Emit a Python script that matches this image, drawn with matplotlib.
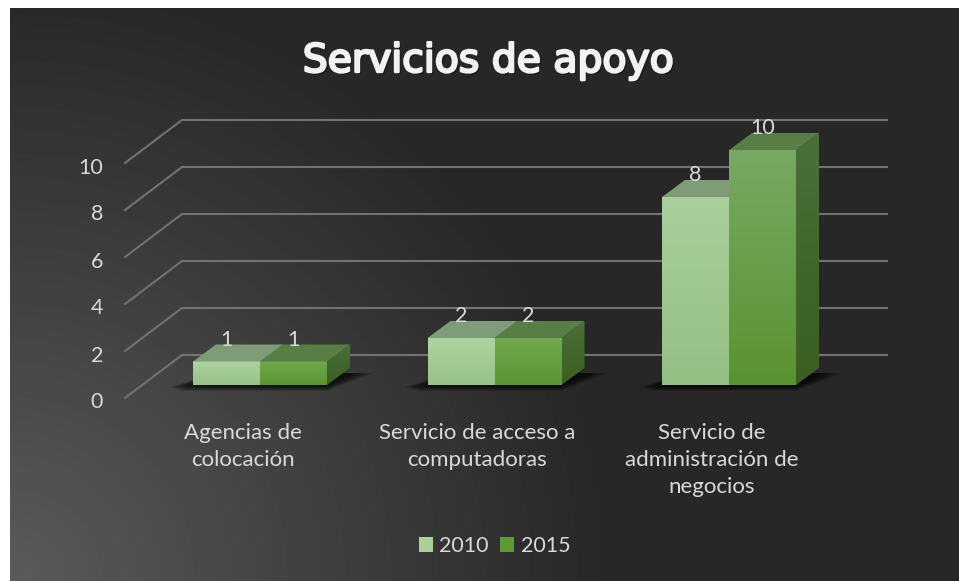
# plot.py - Servicios de apoyo, fake 3D column chart

import numpy as np
import matplotlib
matplotlib.use("Agg")
import matplotlib.pyplot as plt
import matplotlib.patheffects as pe
from matplotlib.patches import Polygon, Patch
from matplotlib.colors import LinearSegmentedColormap

# -------------------------------
# Data
# -------------------------------

categories = ["Agencias de\ncolocación",
              "Servicio de acceso a\ncomputadoras",
              "Servicio de\nadministración de\nnegocios"]
series_names = ["2010", "2015"]
values_2010 = [1, 2, 8]
values_2015 = [1, 2, 10]
y_ticks = [0, 2, 4, 6, 8, 10]

# -------------------------------
# Layout (pixels of the 959x581 picture turned into data units)
# -------------------------------

W, H = 959, 581
X_UNIT = 234.5   # px per category
Y_UNIT = 23.5    # px per value
X0_PX = 260      # category 0 centre
Y0_PX = 385      # value 0 at the bars front edge

BAR_W = 67 / X_UNIT
DEPTH_X = 23 / X_UNIT
DEPTH_Y = 17 / Y_UNIT
WALL_X0 = (125 - X0_PX) / X_UNIT
WALL_Y0 = (Y0_PX - 398) / Y_UNIT
WALL_DX = 57 / X_UNIT
WALL_DY = 43 / Y_UNIT
GRID_END = (887 - X0_PX) / X_UNIT

TEXT_COLOR = "#d9d9d9"
GRID_COLOR = "#727272"

plt.rcParams["font.family"] = ["Lato", "DejaVu Sans"]

fig = plt.figure(figsize=(W / 100, H / 100), dpi=100, facecolor="white")

# -------------------------------
# Background gradient
# -------------------------------

bg = fig.add_axes([10 / W, 0, (W - 10) / W, (H - 8) / H])
bg.axis("off")
xx, yy = np.meshgrid(np.arange(W - 10), np.arange(H - 8))
radius = np.hypot(xx, (H - 8) - yy)
shade = np.clip(1 - radius / 600, 0, 1)
bg_img = 0.153 + (0.355 - 0.153) * shade
bg.imshow(bg_img, cmap="gray", vmin=0, vmax=1, aspect="auto", interpolation="bilinear")

# -------------------------------
# Main axes: x = category index, y = value
# -------------------------------

ax = fig.add_axes([0, 0, 1, 1], facecolor="none")
ax.set_xlim(-X0_PX / X_UNIT, (W - X0_PX) / X_UNIT)
ax.set_ylim((Y0_PX - H) / Y_UNIT, Y0_PX / Y_UNIT)
ax.axis("off")

for tick in y_ticks:
    ax.plot([WALL_X0, WALL_X0 + WALL_DX, GRID_END],
            [WALL_Y0 + tick, WALL_Y0 + WALL_DY + tick, WALL_Y0 + WALL_DY + tick],
            color=GRID_COLOR, lw=1.5, zorder=1, solid_joinstyle="miter")
    ax.text(WALL_X0 - 22 / X_UNIT, WALL_Y0 + tick - 10.5 / Y_UNIT, str(tick),
            ha="right", va="baseline", fontsize=15.5, color=TEXT_COLOR)


def gradient_face(extent, top, bottom, z, clip=None):
    cmap = LinearSegmentedColormap.from_list("f", [top, bottom])
    im = ax.imshow(np.linspace(0, 1, 64).reshape(-1, 1), cmap=cmap, aspect="auto",
                   extent=extent, zorder=z, interpolation="bilinear")
    if clip is not None:
        clip.set_transform(ax.transData)
        im.set_clip_path(clip)


def draw_bar(x0, value, front_tall, front_short, side, top_face, z):
    x1 = x0 + BAR_W
    front = front_tall if value > 5 else front_short
    gradient_face([x0, x1, 0, value], front[0], front[1], z)
    side_shape = Polygon([[x1, 0], [x1 + DEPTH_X, DEPTH_Y], [x1 + DEPTH_X, value + DEPTH_Y], [x1, value]],
                         closed=True)
    gradient_face([x1, x1 + DEPTH_X, 0, value + DEPTH_Y], side[0], side[1], z, clip=side_shape)
    ax.add_patch(Polygon([[x0, value], [x0 + DEPTH_X, value + DEPTH_Y], [x1 + DEPTH_X, value + DEPTH_Y], [x1, value]],
                         closed=True, fc=top_face, ec="none", zorder=z))


light = dict(front_tall=("#a9cf9b", "#94bf83"), front_short=("#aed3a0", "#97c287"),
             side=("#6f8f62", "#6f8f62"), top_face="#7f9c78")
dark = dict(front_tall=("#77a964", "#5a9330"), front_short=("#70a94f", "#5a9530"),
            side=("#4a6f38", "#3a5f20"), top_face="#587d45")

for i in range(len(categories)):
    left = i - BAR_W
    # soft shadow on the floor
    for g in np.linspace(1, 0.05, 16):
        gx = g * 24 / X_UNIT
        gy = g * 6 / Y_UNIT
        ax.add_patch(Polygon([[left - gx, -gy * 0.4],
                              [left - gx * 0.4, -gy],
                              [i + BAR_W, -gy],
                              [i + BAR_W + DEPTH_X + gx, DEPTH_Y * 0.7],
                              [left + DEPTH_X, DEPTH_Y * 0.7]],
                             closed=True, fc="black", ec="none", alpha=0.07, zorder=2))
    draw_bar(left, values_2010[i], z=3, **light)
    draw_bar(i, values_2015[i], z=4, **dark)

    # data labels
    ax.text(left + BAR_W / 2, values_2010[i] + 16 / Y_UNIT, str(values_2010[i]),
            ha="center", va="baseline", fontsize=15.5, color=TEXT_COLOR, zorder=6)
    ax.text(i + BAR_W / 2, values_2015[i] + 16 / Y_UNIT, str(values_2015[i]),
            ha="center", va="baseline", fontsize=15.5, color=TEXT_COLOR, zorder=6)

    # category labels
    ax.text(i - 17 / X_UNIT, -38 / Y_UNIT, categories[i], ha="center", va="top",
            fontsize=16, color=TEXT_COLOR, linespacing=1.44, zorder=6)

# imshow moved the limits, put them back
ax.set_xlim(-X0_PX / X_UNIT, (W - X0_PX) / X_UNIT)
ax.set_ylim((Y0_PX - H) / Y_UNIT, Y0_PX / Y_UNIT)

# -------------------------------
# Title and legend
# -------------------------------

fig.text(488 / W, 1 - 72 / H, "Servicios de apoyo", ha="center", va="baseline",
         fontsize=28.3, color="#f2f2f2", family="DejaVu Sans",
         path_effects=[pe.withSimplePatchShadow(offset=(1.5, -1.5), shadow_rgbFace="black", alpha=0.4),
                       pe.withStroke(linewidth=1.7, foreground="#f2f2f2")])

handles = [Patch(fc="#a9d09a", ec="none"), Patch(fc="#5f9a35", ec="none")]
fig.legend(handles, series_names, loc="center", bbox_to_anchor=(494.5 / W, 1 - 546 / H),
           ncol=2, frameon=False, fontsize=15.5, labelcolor=TEXT_COLOR,
           handlelength=0.65, handleheight=0.65, handletextpad=0.3, columnspacing=0.55)

fig.savefig("out.png", dpi=100)
